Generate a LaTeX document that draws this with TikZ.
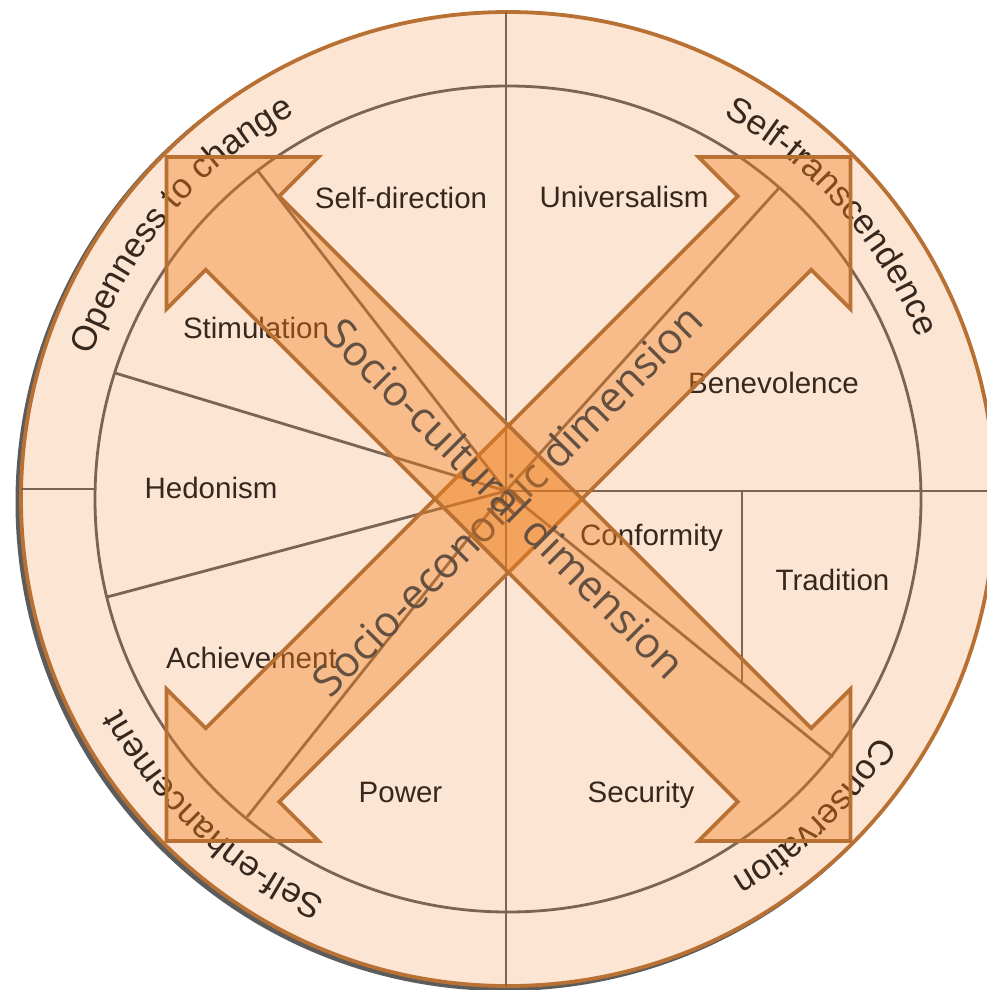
\documentclass[tikz,border=0pt]{standalone}
\usepackage{fontspec}
\setmainfont{Liberation Sans}
\newfontfamily\dimfont{Open Sans}
\usetikzlibrary{decorations.text}
\definecolor{ringfill}{RGB}{253,229,212}
\definecolor{rimcol}{RGB}{184,112,51}
\definecolor{shadowcol}{RGB}{75,75,75}
\definecolor{linecol}{RGB}{122,100,84}
\definecolor{labelcol}{RGB}{55,40,30}
\definecolor{arrowfill}{RGB}{240,127,27}
\definecolor{arrowedge}{RGB}{184,112,51}
\definecolor{dimtext}{RGB}{100,80,65}
\newcommand\ringsize{\fontsize{35}{40}\selectfont}
\begin{document}
\begin{tikzpicture}[x=1pt,y=1pt,
  sector/.style={draw=linecol,line width=2.8pt},
  lbl/.style={text=labelcol,font=\fontsize{29.5}{34}\selectfont,inner sep=0pt,anchor=base},
  bigarrow/.style={fill=arrowfill,fill opacity=0.4,draw=arrowedge,line width=3.8pt,line join=miter},
  dimlbl/.style={text=dimtext,font=\dimfont\fontsize{42.5}{50}\selectfont,inner sep=0pt},
  ringtxt/.style={decorate,decoration={text along path,text align=center,text color=labelcol,text={#1}}}
]
\useasboundingbox (0,0) rectangle (987,-990);
\clip (0,0) rectangle (987,-990);
\fill[white] (0,0) rectangle (987,-990);

\coordinate (O) at (508,-499);
\coordinate (L) at (506,-491);

% wheel
\fill[shadowcol,opacity=0.9] (504.5,-502) circle[radius=489pt];
\draw[fill=ringfill,draw=rimcol,line width=3.8pt] (O) circle[radius=487pt];
\draw[sector] (O) circle[radius=413pt];

% sector lines
\coordinate (vtop) at (506,-12);
\coordinate (vbot) at (506,-986);
\coordinate (hright) at (997,-491);
\coordinate (hlo) at (21,-489);
\coordinate (hli) at (94,-489);
\coordinate (p1) at (115,-373);
\coordinate (p2) at (107,-597);
\coordinate (p3) at (258,-171);
\coordinate (p4) at (779,-188);
\coordinate (p5) at (833,-757);
\coordinate (p6) at (247,-817);
\coordinate (ct) at (742,-491);
\coordinate (cb) at (742,-683);
\draw[sector] (vtop) -- (vbot);
\draw[sector] (L) -- (hright);
\draw[sector] (hlo) -- (hli);
\draw[sector] (L) -- (p1);
\draw[sector] (L) -- (p2);
\draw[sector] (L) -- (p3);
\draw[sector] (L) -- (p4);
\draw[sector] (L) -- (p5);
\draw[sector] (L) -- (p6);
\draw[sector] (ct) -- (cb);

% value labels
\node[lbl] (selfdir) at (401,-208) {Self-direction};
\node[lbl] (univ) at (624,-207.5) {Universalism};
\node[lbl] (stim) at (256,-338) {Stimulation};
\node[lbl] (benev) at (773.5,-393) {Benevolence};
\node[lbl] (hedon) at (211,-498) {Hedonism};
\node[lbl] (conf) at (651.5,-545) {Conformity};
\node[lbl] (trad) at (832.5,-590) {Tradition};
\node[lbl] (achv) at (251.5,-668) {Achievement};
\node[lbl] (power) at (400.5,-802) {Power};
\node[lbl] (secur) at (641,-802) {Security};

% ring labels (clockwise, baseline on circle r=440)
\path[ringtxt={|\ringsize|Openness to change}] (O) ++(200:440pt) arc[start angle=200,end angle=80,radius=440pt];
\path[ringtxt={|\ringsize|Self-transcendence}] (O) ++(101:440pt) arc[start angle=101,end angle=-19,radius=440pt];
\path[ringtxt={|\ringsize|Conservation}] (O) ++(14:440pt) arc[start angle=14,end angle=-106,radius=440pt];
\path[ringtxt={|\ringsize|Self-enhancement}] (O) ++(287:440pt) arc[start angle=287,end angle=167,radius=440pt];

% arrow B (socio-economic), lower-left to upper-right
\begin{scope}[shift={(508.5,-499)},rotate=45]
\draw[bigarrow] (-483.7,0) -- (-376.2,107.5) -- (-376.2,52) -- (376.2,52) -- (376.2,107.5) -- (483.7,0) -- (376.2,-107.5) -- (376.2,-52) -- (-376.2,-52) -- (-376.2,-107.5) -- cycle;
\end{scope}
\node[dimlbl,rotate=45] (dimB) at (507,-500) {Socio-economic dimension};

% arrow A (socio-cultural), upper-left to lower-right
\begin{scope}[shift={(508.5,-499)},rotate=-45]
\draw[bigarrow] (-483.7,0) -- (-376.2,107.5) -- (-376.2,52) -- (376.2,52) -- (376.2,107.5) -- (483.7,0) -- (376.2,-107.5) -- (376.2,-52) -- (-376.2,-52) -- (-376.2,-107.5) -- cycle;
\end{scope}
\node[dimlbl,rotate=-45] (dimA) at (506,-498) {Socio-cultural dimension};
\end{tikzpicture}
\end{document}
